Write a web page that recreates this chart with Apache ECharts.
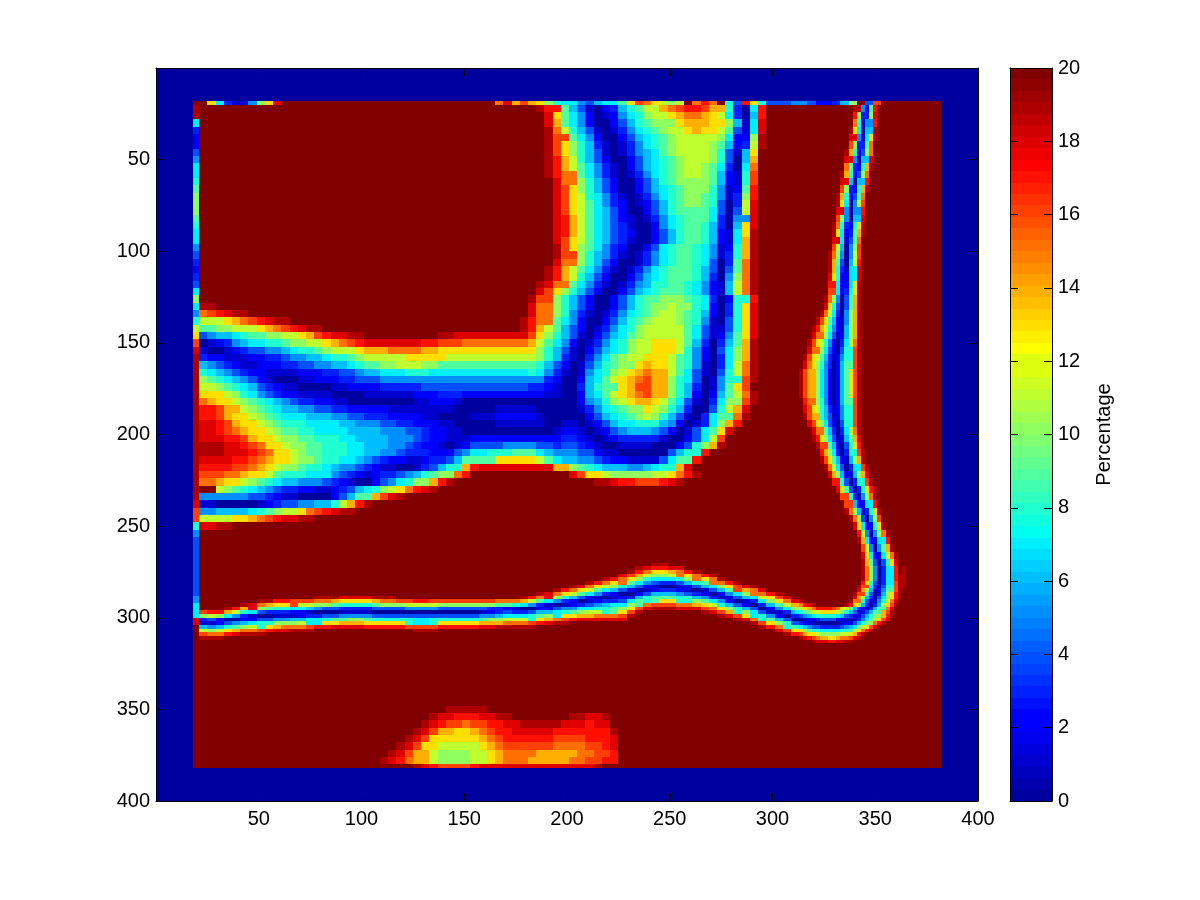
<!DOCTYPE html>
<html><head><meta charset="utf-8">
<style>html,body{margin:0;padding:0;background:#fff}#c{width:1200px;height:900px}</style>
<script src="https://cdn.jsdelivr.net/npm/echarts@6/dist/echarts.min.js"></script>
</head><body><div id="c"></div>
<script>
// Letters a..u stand for the percentage values 0..20, a following number repeats the letter.
// Rows run top to bottom, a missing tail means 20.
const heatRows = [
"u41 t r m j g e b a c d g i j l m o p q r r q o m i d a h r u11 h d t",
"u42 s n j h f c a b c f h i k l m n o p p o n l h d a g r u11 h c s",
"u42 s o j h f c a a c e g i j k m m n o o o n m k g b h s u11 i c q",
"u42 t p l i g e b a b d f h i j k l m n o n m l j e b h s u11 j c p",
"u42 t q m j h f c a a c e g h i j k l m m m l k h c c k t u10 q f i t",
"u42 t q n k i g d b a b d f h i j k l m m l k j g c d l t u10 p d j",
"u42 t q n k i g e b a b d f g h j k l l l l k i e b g n u11 n b l",
"u42 t r o l i g e c a a c e g h i j k l l l k i e a g o u10 t k b n",
"u42 t r o l j h f d b a c e g h i j k l l k j h d a h p u10 s i c p",
"u42 t r p m j h f d b a b d f h i j k l l k j g c b i q u10 r g d q",
"u43 s p m k i g e c a a c e g i j k k k k j g c b i q u10 q f f r",
"u43 s q n k i g e c a a c e g h i j k k k i f b c j r u10 o c h s",
"u43 s q n l i h f d b a b d f h i j k k j i f b d k r u10 n a j t",
"u43 s q n l j h f d c a b c e g i j k k j i e a d l s u10 m a k t",
"u43 s q n l j h g e c a a c e g i j j j j h e a e l s u9 t k b l",
"u43 s r o l j h g e c b a b d f h i j j j h d a f m s u9 s j c n",
"u43 s r o l j h g e d b a a c f h i j j i g d a g n s u9 r h d o",
"u43 s r o l j h g e d c a a c e g i j j i g c b h n t u9 q g f p",
"u43 s q n l j h g e d b a a c e g i j j i g c b h o t u9 p f f q",
"u43 t q n k j h f d c a a c e h i j j i h f b c i o t u9 o e g r",
"u43 t q m k i g f d b a b d f h i j j i h f b d i o t u9 n c i r",
"u43 s p m k i g e c a a b d f h i j j i h e a d j p t u9 m b i s",
"u42 t r o l j h f d b a b d f h i j j j i g e a e j p t u8 t l a j s",
"u42 t r o l i g e c a a c e g h i j j j i g d a f k p t u8 s k a k t",
"u41 t s p m j h f d b a b d f g i i j j i h f c b g l p t u8 s j a k t",
"u41 s q n k i g e c a a c e g h i j j j i h f c b g l p t u8 r i a k t",
"u40 t q m k i g e c a a c e g i j j k k k j i h d a c i m r u8 r h b l t",
"t2 u38 s p m k i g e c a a c e g i j k k l k k i h c a d i n s u7 t q g b l t",
"p q r s t t u34 s p m k i f d b a b d f h i j k l l k j i g c a d i n s u7 s p f b l",
"l l m n o p q r s t t u28 t r p m j h f c a a c e g i j k l m l k j i f b a e i n s u6 t s n e b l",
"j j k k l l m n o p q r s t t u24 t r o l j g e c a b d f h i k l m m m l j h e b b e i n s u6 t r m d c l",
"e f g g h i j j k k l m n o q r s s t t u9 t t s9 q n k i g e b a c e g h j k l m m m l j h e b c f j n s u6 t r l c c m",
"a b c d f g h h i i j k k l m n o p q r s6 s r r q3 p8 o l j h f c a b d f h i k l m n m m l j g d a d g j o t u6 s p k b d m",
"b a a b c d e e f f g h i i j k l m m n o o o p4 o o n6 m5 m k i g e b a c e g h i k l m n n m l i f c a e h k o t u6 r n i a f n",
"d c c b b b c c d d e f f g g h i i j k l l m m m n n m m m l10 l k i g d b a d f h j k l m n n m l j i f c a d h k o t u5 t q m h a g n",
"g f e d c b b c c c d d e e f f g g h i j j k k l l l k k j11 j i g e c a b e g i j k m n o n m l j i f b a d h l p t u5 t p l g a g n",
"i h g f e d c c b b b b c c c d d e e f g g h h h i i i h12 i h f d b a b f h i k l n o p o m l j h e b a e i l p t u5 s p l g a g n",
"k j i h g f e c b a a a b b c c c d d e e e f18 f f d c a a c g h j l n o p q o m k i h e a b f i m q t u5 s p k g a g n",
"l l k j i h g e d c b b a a a a b b c c c c d5 e13 d d c b a a d g i j m n o q q o m k i g d a b f j n q u u5 s p k g a h n",
"n m m l k i h f e d c c b b b b a a a a b6 c3 d3 c8 c c b b a a c g h j l n o p q o m k i g c a c g j l p t u5 s p l g a h n",
"p o n m l k j i h g f e d d c c b b a8 b b c3 b a14 c f g i k l n o o n l j h e b a d h k m q t u5 t q m h a g m",
"r r q o m l k j i h g g f f e e d d c5 b8 a5 b4 b a a a a a b d f h i j k m n l k i g d a a e i l o s u u6 r n i b f m",
"r r q o n m l k j i h h h g g g f f e e d d d c4 b b a4 b3 c4 c b a a a a a c e g h i j k l k i g e b a d h j m p t u u6 s o j c e m",
"s s r q o n m l k j i i i h4 g g f3 e e d d c3 b b a5 b4 b b a a b b a b c e g h h i i i g f c a b d h k o r u8 t p k d c l t",
"s s r q p o n m l k j j i i h4 g4 f3 e e d c c b b a8 a a a b c c b a b c e f g g g f e c a b e h j n s u10 r l f b j t",
"s3 r r q o n m l k k j j i3 h h g4 f3 e d c c b3 c7 c c c c d d c b a b c d d d d d b a a c e h l q u11 s n h b h s",
"t3 s s r q p n m l k k j j i3 h h g3 f f e d c c b a b c e4 f3 f e e d e e d c b a a b b b b a a a c e i k o t u11 t o i b g r",
"t3 s3 r q p n m l k j j i3 h h g g f f e d d d c3 e f h h i3 j j j h g f f f e e c b b a6 e g i m r u14 p j b e p",
"s4 r r q p o n m l k k j i i h h g f e d c c b b c d d e g j m3 n4 n l j h g g f f e d c c b4 e h j m r u15 s m d c n t",
"r4 q q p o n l k k j i i h g f f e d c b b a a b d e g i m o r s6 s s s o m k j i h g g g f f g h i m o s u16 t o f a k s",
"q3 p p o n m l j i3 h3 f e d c b c d d e f g i j k m p r u12 s q n m l k5 l m n p r t u16 q h a i r",
"p p o n m l k j i h g g f f f e d c b a a c e f h i k m o r t u17 t t s r r q3 r s t u18 s k c f o",
"m m l k j i h g f e d d c c b b c d e g h i k l n p r s t u48 t n e c l t",
"f6 e e d c b b a4 c e g j m o q s t u53 q h a j s",
"b b a5 b c d e e f f g g i l o r t u57 t k a h r",
"f f g4 h i j k l m n p q r s t t u60 n c e o",
"l l m m n n o p q r s s t t u65 s g b m t",
"s s t t u75 t j a j s",
"u80 n b h q",
"u80 q d f o t",
"u80 s f d m s",
"u80 t h b k r",
"u54 t s s t u23 j a h p",
"u52 t s q p o p q s t u20 k a g n t",
"u49 t s q o m k j i i j k n p r t u16 t k a g m t",
"u46 t s q n m k h f d c b b b d f h j n p s t u13 q i a f m t",
"u42 t s q o m k j f d b a a b c d d c b a a c f i l n p s u11 m e a g n",
"u13 t26 s p m k i g f d b a c d e f h j k k k j j i h e d a c e h k n p s u7 t i b c i p",
"u3 r5 o5 l8 i18 c b a b c d f g f f g h i l n r s s s r r q o m k i g d b b e i l n q t t u t p m c b g m s",
"k3 f5 b5 a8 c18 f g h j k k m m k k l l n s t u8 t s p n l j g c a c f j l n n n k f a e k p",
"b3 e5 i13 j18 n o p q s t t t s s s s t u13 t s s n l i f c a a b b b a a e i o t",
"k3 n5 r5 s8 t18 u30 t r n k i g g g g f g k n t",
"u72 s q n m l l l n s t",
"u75 t4",
"u","u","u","u","u","u","u","u",
"u30 t5",
"u28 t s s r r r s s t t u7 t t s s t",
"u27 t s r q q p q q r r s s t5 s3 r s s",
"u26 t s q o o n n o p q r r s5 r7 t",
"u25 t s q n m4 n o p q r6 q4 r3 s",
"u24 t s q n m l4 m n o p q6 p4 q q r s",
"u23 t s q o m l k4 l m n o p4 o5 p p q q r",
"u22 t s r p o m l k4 l m n o p3 o5 p p q q r r"
];
// Finer readings of the narrow foot-shaped band, same letters, rows top to bottom.
const footRows = [
"u14 t m f c j r","u14 r k d d k s","u14 p i b f m r","u13 t n h a g m t","u13 s m f b h n t","u13 q k d d j p",
"u12 t o i b e k p","u12 s m f a g m s","u12 p j d c i o t","u11 t o i c e k p","u11 s m g a g m r","u11 q k d c i o t",
"u10 t o i c e j p","u10 t n h a f l q","u10 s m f a f m r","u10 q k f a g m s","u9 t p i d c i n t","u9 t n h c d j o t",
"u9 s m h b e j p","u9 q l g a f k q","u8 t p k f a f l q","u8 t o j e a g l r","u8 t o i d b h m s","u8 s n i c c h m s",
"u8 r m h c c h n t","u8 q m h c d i n t","u7 t p k f a e j o t","u7 s n i e a e j o t","u6 t p l h d a f k o t",
"u5 t q n j g c b f k o t","u4 t r o l i f c b g k o t","u4 s p m k h e b c g k o t","u3 t q n l i f c a d h l p t",
"u3 s p m k h e c a e i m q t","u2 t q n l j g d b c f i m q t","u2 s p n k i f d a c g j m q t",
"u t q o m k h f c a c g j n q t","u t q o m k h f c a c g j n q t","u t q o m k h f c a c g j n q t","u t q o m k h f c a c g j n q t",
"u2 r p m k i f c a c g j m q t","u2 s q n l i g d b c f i m q t","u2 t q o m i g e b b f i m q t","u3 s q n k h e c a e i m q t",
"u4 s p m j g d a d h l p t","u4 t r n k h e b b g j o s","u5 t q m j g c a e i n r","u6 r o k h d a d i m q t",
"u6 t q n j g c b g k o t","u7 t p l h e a d h m q t","u8 s o k g c b g k o s","u9 r m i e a d i m q t",
"u10 s n j e a d i n r t","u11 q m i d a f k p t","u12 q m g c c h m r","u12 t p k g b d i n t","u13 t p k e a f k q",
"u14 s n h c c i n t","u15 r l f a f k p t","u15 t o h c c h m r","u16 q l f a f j o t","u16 s n h c c h l p t",
"u16 t o j e a e i n s","u16 t p k f a d h m r","u16 t p k f a d h m r t"
];
const cornerRows = [
"u16 r n i e a d h m q t","u15 t q m h d a e i m q t","u15 s o k g b c f j m q t","u14 t q m i e a c g k n r t",
"u14 s o k g d a e h k n r t","s t u11 t p m i e b b f i l p s","o p r s t u7 t r n k g d a d g k n q t",
"k l n o p r r r r q p n l j g d c a d g j m p s","h i j k l m n n n m l k i g e b c e g j m o q t",
"d e f g h i i i i i h g e d b c e g i k m o r t","a a b c c d e e e e c c b a b d f h j l n q s",
"e d c b b a a a a a a b c c e g i k m p r t","i h g f e e d d d d d e f g h k l n q s",
"n m k j i i h h h h h i i j l n p r t","r q o n m l k k k k k l m n o r t","u t s r q p o o n n o p p q s t",
"u4 t s s s r r s s t t","u"
];
// Finer readings of the long horizontal band, one string per column, top to bottom.
const bandColumns = [
"u15 q k d b g l q t","u15 r l e b f k p t","u15 r k c c g l p t","u14 t o h a e i n r","u14 r l f a f j o s",
"u13 t o i d c g k p t","u13 s m h b c h l p t","u12 t p k e a e i m q t","u12 t o j d a e i n r","u12 r n i d b f k o s",
"u12 r n i d b f k p s","u12 q m h c b g k p t","u12 q l h c c g l p t","u12 q l g b d h m q t","u11 t p k f a d h m r",
"u11 t p k e a e i n r","u11 t o j e a e j n s","u11 s n i d b f j o s","u11 s n i d b f k o s","u11 s n i d b f k o s",
"u11 s n i d b f j n r","u11 t o j e a e i n r","u11 t p k e a e i n r","u11 t p k e a e i n r","u12 q k e a e i n r",
"u12 q l f a e i m q","u12 r l f a e h m q t","u12 r l f a e h m q t","u12 q l f a e i m q t","u12 q k e a e i n r",
"u12 q k e a e i n r","u12 q k e a e i n r","u12 q k e a e i n r","u12 q k e a e i n r","u12 q k e b f j o s",
"u12 q k d c f k o s","u12 p j d d g k o t","u12 p j c e h l p t","u12 p i b d h l p t","u11 t o h a d h l p t",
"u11 r l f a e i m q t","u10 t p j d c g j n r","u10 s m h b c g k o s","u9 t p k f a e h m p t","u9 r n i d b f i n q t",
"u8 t p l g c c f j n r","u8 s n j e a d h k o s","u7 t p l h c b e h l o s","u7 r n j f b c f i l p s","u6 t p l h d a d g i m p s",
"u6 r n k g c b d h j m p s","u5 s p m i e a c e h k n q s","u4 t q n j g c a d h k n q t","u3 t r o k h e a c g j m q t",
"u3 s p l i f c b e i m p s","u2 t r n k h e b c g j m q t","u2 t r n k h d a d g j n q t","u3 s o l h d a d g j n q t",
"u3 s p m i e b c f i m p s","u4 r n k g c b e i m p s","u4 t p m i e a d g k o s","u5 r n j g b c f j n q t",
"u5 t p m h e a d h l p s","u6 t p k g c b f i n q t","u7 r n j f b c g k o s","u7 t q m h e a e i m q t",
"u8 s o k g b c g k n s","u8 t p m h d a e h m p t","u9 s p l h d a e i m q t","u10 r n k g c b f j n r",
"u10 t q n j f b c g k p s","u11 s p l h d a e i m q t","u12 s o k g d a e j n r"
];
const topEdge = "u n h d b b f k n s u26 p m o q o n k i h h f e g h h j n q p n l k l m p r p m i e r n i e e e f f e c c d g k m e q";
const leftEdge = "t m h d c c e f h h i j k k k j i h h f e d c d e h k h f i l n q s t20 s q m i f e8 f h m s";
const bottomEdge = "u26 t s r q q q q r s14 t";
const axisTicks = [50, 100, 150, 200, 250, 300, 350, 400];
const barTicks = [0, 2, 4, 6, 8, 10, 12, 14, 16, 18, 20];
const barName = "Percentage";

function decode(s) {
  const out = [];
  s.replace(/([a-u])(\d*)/g, (m, ch, n) => {
    for (let i = 0, k = n ? +n : 1; i < k; i++) out.push(ch.charCodeAt(0) - 97);
    return m;
  });
  return out;
}
function jetColours() {
  const u = [];
  for (let i = 1; i <= 16; i++) u.push(i / 16);
  for (let i = 0; i < 15; i++) u.push(1);
  for (let i = 16; i >= 1; i--) u.push(i / 16);
  const cols = [];
  for (let i = 1; i <= 64; i++) {
    const g = i >= 9 && i <= 55 ? u[i - 9] : 0;
    const r = i >= 25 ? u[i - 25] : 0;
    const b = i <= 39 ? u[i + 8] : 0;
    cols.push("rgb(" + Math.round(r * 255) + "," + Math.round(g * 255) + "," + Math.round(b * 255) + ")");
  }
  return cols;
}
const jet = jetColours();
const colourOf = v => jet[Math.min(63, Math.floor(v / 20 * 64))];

const X0 = 21, Y0 = 20, STEP = 4, COLS = 91, RMAX = 382, LMIN = 18, TMIN = 18, BSTRIP = 380;
const cells = [[0, 0, 400, 400, 0]];
heatRows.forEach((row, r) => {
  const vals = decode(row);
  for (let c = 0; c < COLS; c++) {
    const v = c < vals.length ? vals[c] : 20;
    cells.push([X0 + c * STEP, Y0 + r * STEP, Math.min(RMAX, X0 + (c + 1) * STEP), Y0 + (r + 1) * STEP, v]);
  }
});
const te = decode(topEdge), be = decode(bottomEdge), le = decode(leftEdge);
cells.push([LMIN, TMIN, X0, Y0, 20]);
cells.push([LMIN, BSTRIP, X0, RMAX, 20]);
for (let c = 0; c < COLS; c++) {
  const x0 = X0 + c * STEP, x1 = Math.min(RMAX, x0 + STEP);
  cells.push([x0, TMIN, x1, Y0, c < te.length ? te[c] : 20]);
  cells.push([x0, BSTRIP, x1, RMAX, c < be.length ? be[c] : 20]);
}
for (let r = 0; r < heatRows.length; r++) {
  cells.push([LMIN, Y0 + r * STEP, X0, Y0 + (r + 1) * STEP, r < le.length ? le[r] : 20]);
}
// overlays of the finer readings
bandColumns.forEach((col, c) => {
  const vals = decode(col);
  for (let j = 0; j < 28; j++) {
    cells.push([X0 + c * STEP, 266 + j * 2, X0 + (c + 1) * STEP, 268 + j * 2, j < vals.length ? vals[j] : 20]);
  }
});
function addRows(rows, y0, dy) {
  rows.forEach((row, r) => {
    const vals = decode(row);
    for (let k = 0; k < 26; k++) {
      cells.push([311 + k * 2, y0 + r * dy, 313 + k * 2, y0 + (r + 1) * dy, k < vals.length ? vals[k] : 20]);
    }
  });
}
addRows(footRows, Y0, STEP);
addRows(cornerRows, 280, 2);
const barCells = jet.map((_, i) => [0, i * 20 / 64, 1, (i + 1) * 20 / 64, (i + 0.5) * 20 / 64]);

function rectItem(params, api) {
  const a = api.coord([api.value(0), api.value(1)]);
  const b = api.coord([api.value(2), api.value(3)]);
  const x = Math.round(Math.min(a[0], b[0])), y = Math.round(Math.min(a[1], b[1]));
  const w = Math.round(Math.max(a[0], b[0])) - x, h = Math.round(Math.max(a[1], b[1])) - y;
  return { type: "rect", shape: { x, y, width: w, height: h }, style: { fill: colourOf(api.value(4)), stroke: null } };
}
const FONT = "Liberation Sans";
const line = { show: true, onZero: false, lineStyle: { color: "#000", width: 1 } };
const tick = { show: true, inside: true, length: 8, lineStyle: { color: "#000", width: 1 } };
const label = { color: "#000", fontFamily: FONT, fontSize: 20, margin: 8, showMinLabel: true, showMaxLabel: true, hideOverlap: false };
const hideZero = v => (axisTicks.includes(v) ? String(v) : "");
const plain = { splitLine: { show: false }, z: 10 };

const option = {
  animation: false,
  backgroundColor: "#fff",
  grid: [
    { left: 156, top: 68, width: 822, height: 733, containLabel: false },
    { left: 1010, top: 68, width: 42, height: 733, containLabel: false }
  ],
  xAxis: [
    Object.assign({ type: "value", gridIndex: 0, position: "bottom", min: 0, max: 400, interval: 50, axisLine: line, axisTick: tick,
      axisLabel: Object.assign({}, label, { formatter: hideZero }) }, plain),
    Object.assign({ type: "value", gridIndex: 0, position: "top", min: 0, max: 400, interval: 50, axisLine: line, axisTick: tick, axisLabel: { show: false } }, plain),
    Object.assign({ type: "value", gridIndex: 1, position: "bottom", min: 0, max: 1, axisLine: line, axisTick: { show: false }, axisLabel: { show: false } }, plain),
    Object.assign({ type: "value", gridIndex: 1, position: "top", min: 0, max: 1, axisLine: line, axisTick: { show: false }, axisLabel: { show: false } }, plain)
  ],
  yAxis: [
    Object.assign({ type: "value", gridIndex: 0, position: "left", inverse: true, min: 0, max: 400, interval: 50, axisLine: line, axisTick: tick,
      axisLabel: Object.assign({}, label, { formatter: hideZero, margin: 6 }) }, plain),
    Object.assign({ type: "value", gridIndex: 0, position: "right", inverse: true, min: 0, max: 400, interval: 50, axisLine: line, axisTick: tick, axisLabel: { show: false } }, plain),
    Object.assign({ type: "value", gridIndex: 1, position: "right", min: 0, max: 20, interval: 2, axisLine: line, axisTick: tick,
      axisLabel: Object.assign({}, label, { margin: 6 }),
      name: barName, nameLocation: "middle", nameRotate: 90, nameGap: 42, nameTextStyle: { color: "#000", fontFamily: FONT, fontSize: 20 } }, plain),
    Object.assign({ type: "value", gridIndex: 1, position: "left", min: 0, max: 20, interval: 2, axisLine: line, axisTick: tick, axisLabel: { show: false } }, plain)
  ],
  series: [
    { type: "custom", coordinateSystem: "cartesian2d", xAxisIndex: 0, yAxisIndex: 0, data: cells, renderItem: rectItem, progressive: 0, silent: true, clip: true },
    { type: "custom", coordinateSystem: "cartesian2d", xAxisIndex: 2, yAxisIndex: 2, data: barCells, renderItem: rectItem, progressive: 0, silent: true, clip: true }
  ]
};
echarts.init(document.getElementById("c"), null, { renderer: "canvas" }).setOption(option);
</script>
</body></html>
